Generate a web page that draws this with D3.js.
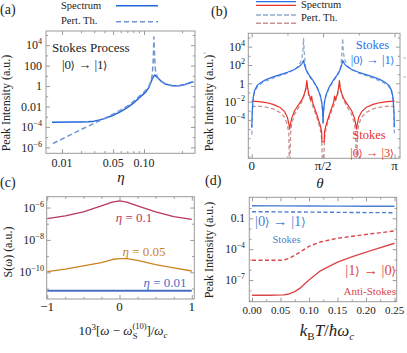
<!DOCTYPE html>
<html><head><meta charset="utf-8">
<script src="https://cdn.jsdelivr.net/npm/d3@7"></script>
<style>
body{margin:0;background:#fff}
text{font-family:"Liberation Serif","DejaVu Serif",serif;}
</style></head><body>
<script>
// ---------------- DATA ----------------
// Panel (a): Stokes |0>->|1> peak intensity vs eta
const aEta = [0.0065,0.015,0.02,0.025,0.03,0.035,0.04,0.05,0.06,0.07,0.08,0.09,0.1,0.105,0.11,0.115,0.118,0.122,0.124,0.127,0.13,0.14,0.15,0.17,0.19,0.21,0.23,0.24];
const aSpectrum = [2.8e-4,3.0e-4,3.0e-4,3.3e-4,3.7e-4,4.9e-4,6.5e-4,1.4e-3,3.2e-3,7.8e-3,0.021,0.066,0.18,0.32,0.71,2.5,5.5,10.7,12,8.5,6.8,2.8,1.6,1.1,1.1,1.4,2.2,2.6];
const aPertEta = [0.0068,0.01,0.02,0.03,0.04,0.05,0.06,0.07,0.08,0.09,0.1,0.105,0.11,0.115,0.118,0.12,0.1215,0.123,0.125,0.13,0.14,0.15,0.17,0.19,0.21,0.23,0.24];
const aPert = [2.4e-6,6.5e-6,5.5e-5,2.3e-4,6.8e-4,1.8e-3,4.5e-3,0.011,0.03,0.093,0.26,0.46,0.89,3.1,15,355,6.3e4,1100,37,7.6,2.8,1.6,1.1,1.1,1.4,2.2,2.6];
const aXTicks = [0.01,0.05,0.10];
const aXLabels = ["0.01","0.05","0.10"];
const aYTicks = [1e4,1e2,1,1e-2,1e-4,1e-6];
const aYLabels = [["10","4"],["100",""],["1",""],["0.01",""],["10","−4"],["10","−6"]];

// Panel (b): peak intensity (log10) vs theta (theta in units of pi)
const bTheta = [0.001,0.004,0.01,0.02,0.04,0.07,0.1,0.15,0.2,0.25,0.3,0.33,0.35,0.363,0.37,0.38,0.4,0.43,0.46,0.48,0.49,0.497,0.5];
const bBlueSpec = [-4.8,-3.0,-1.6,-0.8,-0.2,0.15,0.4,0.7,0.95,1.2,1.5,1.8,2.1,2.5,2.0,1.5,0.95,0.3,-0.5,-1.3,-2.0,-3.0,-4.3];
const bBluePertTheta = [0.001,0.004,0.01,0.02,0.04,0.07,0.1,0.15,0.2,0.25,0.3,0.33,0.35,0.358,0.363,0.368,0.375,0.385,0.4,0.43,0.46,0.48,0.49,0.497,0.5];
const bBluePert = [-5.6,-3.4,-1.9,-1.0,-0.35,0.0,0.25,0.55,0.85,1.1,1.5,1.9,2.6,3.4,4.9,3.4,2.0,1.3,0.85,0.2,-0.6,-1.4,-2.1,-3.2,-4.5];
const bRedTheta = [0,0.05,0.1,0.15,0.2,0.23,0.25,0.262,0.266,0.27,0.28,0.3,0.33,0.355,0.37,0.38,0.386,0.39,0.4,0.415,0.42,0.425,0.44,0.46,0.48,0.49,0.492,0.5];
const bRedSpec = [-1.95,-2.0,-2.1,-2.3,-2.65,-3.1,-3.7,-4.6,-5.0,-4.6,-3.8,-3.0,-2.3,-1.7,-1.1,-0.5,0.3,-0.3,-1.2,-1.8,-1.4,-2.0,-2.7,-3.6,-4.6,-5.3,-6.38,-6.38];
const bRedPertTheta = [0,0.05,0.1,0.15,0.2,0.23,0.25,0.26,0.264,0.268,0.272,0.28,0.3,0.33,0.355,0.37,0.38,0.386,0.39,0.4,0.44,0.46,0.48,0.49,0.496,0.5];
const bRedPert = [-2.55,-2.5,-2.6,-2.8,-3.2,-3.7,-4.5,-5.5,-9,-9,-5.5,-4.4,-3.4,-2.6,-1.9,-1.2,-0.6,0.1,-0.5,-1.4,-3.0,-3.9,-5.0,-6.0,-9,-9];
const bXTicks = [0,0.5,1];
const bXLabels = ["0","π/2","π"];
const bYTicks = [4,2,0,-2,-4];
const bYLabels = [["10","4"],["10","2"],["1",""],["10","−2"],["10","−4"]];

// Panel (c): S(omega) (log10) around the Stokes line
const cX = [-1,-0.75,-0.5,-0.25,-0.1,0,0.1,0.25,0.5,0.75,1];
const cEta010 = [-6.69,-6.52,-6.27,-5.9,-5.67,-5.59,-5.66,-5.9,-6.27,-6.56,-6.73];
const cEta005 = [-9.96,-9.80,-9.61,-9.40,-9.21,-9.15,-9.16,-9.27,-9.52,-9.73,-9.92];
const cEta001 = [-11.14,-11.14,-11.14,-11.14,-11.14,-11.14,-11.14,-11.14,-11.14,-11.14,-11.14];
const cXTicks = [-1,0,1];
const cXLabels = ["−1","0","1"];
const cYTicks = [-6,-8,-10];
const cYLabels = [["10","−6"],["10","−8"],["10","−10"]];

// Panel (d): peak intensity vs temperature
const dT = [0,0.05,0.1,0.15,0.2,0.25];
const dStokesSpec = [1.66,1.62,1.58,1.54,1.5,1.46];
const dStokesPert = [0.44,0.42,0.4,0.38,0.36,0.35];
const dAntiT = [0,0.03,0.055,0.065,0.075,0.085,0.1,0.12,0.15,0.18,0.21,0.25];
const dAntiSpec = [-8.48,-8.47,-8.44,-8.35,-8.12,-7.75,-7.0,-6.1,-5.25,-4.65,-4.12,-3.42];
const dAntiPert = [-5.08,-5.08,-5.06,-4.9,-4.6,-4.25,-3.72,-3.3,-2.94,-2.72,-2.5,-2.23];
const dXTicks = [0,0.05,0.1,0.15,0.2,0.25];
const dXLabels = ["0.00","0.05","0.10","0.15","0.20","0.25"];
const dYTicks = [-1,-4,-7];
const dYLabels = [["0.1",""],["10","−4"],["10","−7"]];

// ---------------- DRAWING ----------------
const svg = d3.select("body").append("svg").attr("width",407).attr("height",353);
const GRAY = "#9a9a9a";

function frame(x0,y0,x1,y1){
  svg.append("rect").attr("x",x0).attr("y",y0).attr("width",x1-x0).attr("height",y1-y0)
    .attr("fill","none").attr("stroke",GRAY).attr("stroke-width",1);
}
function axes(xs, ys, x0,y0,x1,y1, xMaj, xMin, yMaj, yMin){
  const mk = (ax, t, pos, len) => {
    const g = svg.append("g").attr("transform",pos);
    g.call(ax.tickValues(t).tickSize(len).tickFormat(""));
    g.select(".domain").remove();
    g.selectAll("line").attr("stroke",GRAY);
  };
  mk(d3.axisBottom(xs), xMaj, `translate(0,${y1})`, -4);
  mk(d3.axisBottom(xs), xMin, `translate(0,${y1})`, -2.2);
  mk(d3.axisTop(xs), xMaj, `translate(0,${y0})`, -4);
  mk(d3.axisTop(xs), xMin, `translate(0,${y0})`, -2.2);
  mk(d3.axisLeft(ys), yMaj, `translate(${x0},0)`, -4);
  mk(d3.axisLeft(ys), yMin, `translate(${x0},0)`, -2.2);
  mk(d3.axisRight(ys), yMaj, `translate(${x1},0)`, -4);
  mk(d3.axisRight(ys), yMin, `translate(${x1},0)`, -2.2);
}
function yLabels(ys, ticks, labels, xr, fs){
  ticks.forEach((t,i)=>{
    const tx = svg.append("text").attr("x",xr).attr("y",ys(t)+fs*0.35)
      .attr("text-anchor","end").attr("font-size",fs).attr("fill","#222");
    tx.append("tspan").text(labels[i][0]);
    if(labels[i][1]) tx.append("tspan").attr("font-size",fs*0.68).attr("dy",-fs*0.42).text(labels[i][1]);
  });
}
function xLabels(xs, ticks, labels, yb, fs){
  ticks.forEach((t,i)=>{
    svg.append("text").attr("x",xs(t)).attr("y",yb).attr("text-anchor","middle")
      .attr("font-size",fs).attr("fill","#222").text(labels[i]);
  });
}
function clip(id,x0,y0,x1,y1){
  svg.append("clipPath").attr("id",id).append("rect").attr("x",x0).attr("y",y0).attr("width",x1-x0).attr("height",y1-y0);
  return `url(#${id})`;
}
function curve(xsArr, ysArr, xs, ys, color, w, dash, cp){
  const line = d3.line().x(d=>xs(d[0])).y(d=>ys(d[1]));
  const p = svg.append("path").datum(xsArr.map((x,i)=>[x,ysArr[i]]))
    .attr("d",line).attr("fill","none").attr("stroke",color).attr("stroke-width",w)
    .attr("stroke-linejoin","round").attr("clip-path",cp);
  if(dash) p.attr("stroke-dasharray",dash);
  return p;
}
function mirrorVals(t, v){ // symmetric about theta = pi/2
  const tt = t.slice(), vv = v.slice();
  for(let i=t.length-2;i>=0;i--){ tt.push(1-t[i]); vv.push(v[i]); }
  return [tt,vv];
}
function rotText(x,y,s,fs){
  svg.append("text").attr("transform",`translate(${x},${y}) rotate(-90)`).attr("text-anchor","middle")
    .attr("font-size",fs).attr("fill","#222").text(s);
}
function txt(x,y,s,fs,color,anchor,italic){
  const t = svg.append("text").attr("x",x).attr("y",y).attr("font-size",fs).attr("fill",color||"#222")
    .attr("text-anchor",anchor||"start").text(s);
  if(italic) t.attr("font-style","italic");
  return t;
}
function ket(x,y,a,b,fs,color,anchor){
  const t = txt(x,y,"",fs,color,anchor);
  t.append("tspan").text("|"+a);
  t.append("tspan").attr("font-family","DejaVu Sans").attr("font-size",fs*0.85).attr("dx",-0.5).text("⟩");
  t.append("tspan").text(" → |"+b);
  t.append("tspan").attr("font-family","DejaVu Sans").attr("font-size",fs*0.85).attr("dx",-0.5).text("⟩");
  return t;
}

// ===== Panel (a) =====
{
  const x0=46,x1=195,y0=31,y1=153.3;
  const xs = d3.scalePow().exponent(0.3).domain([0.01,0.1]).range([62,144]);
  const ys = d3.scaleLog().domain([Math.pow(10,-6.58),Math.pow(10,5.39)]).range([y1,y0]);
  const cp = clip("ca",x0,y0,x1,y1);
  curve(aEta,aSpectrum,xs,ys,"#2266dd",1.5,null,cp);
  curve(aPertEta,aPert,xs,ys,"#6f93d6",1.5,"5,3",cp);
  frame(x0,y0,x1,y1);
  axes(xs,ys,x0,y0,x1,y1,aXTicks,[0.02,0.03,0.04,0.06,0.07,0.08,0.09,0.2],aYTicks,[1e5,1e3,10,0.1,1e-3,1e-5]);
  xLabels(xs,aXTicks,aXLabels,167,12);
  yLabels(ys,aYTicks,aYLabels,42,12);
  txt(121,182,"η",15,"#222","middle",true);
  rotText(10,103,"Peak Intensity (a.u.)",12);
  txt(52,52,"Stokes Process",13);
  ket(62,69,"0","1",13);
  txt(0,13.5,"(a)",14);
  // legend
  txt(61,9,"Spectrum",10.5);
  txt(61,24,"Pert. Th.",10.5);
  const lx = d3.scaleLinear().domain([0,1]).range([116,158]);
  svg.append("line").attr("x1",lx(0)).attr("x2",lx(1)).attr("y1",5.7).attr("y2",5.7).attr("stroke","#2266dd").attr("stroke-width",1.5);
  svg.append("line").attr("x1",lx(0)).attr("x2",lx(1)).attr("y1",21.7).attr("y2",21.7).attr("stroke","#6f93d6").attr("stroke-width",1.5).attr("stroke-dasharray","5,3");
  [53,133].forEach(y=>svg.append("line").attr("x1",203).attr("x2",206).attr("y1",y).attr("y2",y).attr("stroke","#bbb"));
}

// ===== Panel (b) =====
{
  const x0=248.3,x1=400,y0=33.3,y1=158.3;
  const xs = d3.scaleLinear().domain([0,1]).range([251.7,394.5]);
  const ly = d3.scaleLinear().domain([-8.19,5.46]).range([y1,y0]);
  const cp = clip("cb",x0,y0,x1,y1);
  const [rpT,rpV]=mirrorVals(bRedPertTheta,bRedPert);
  const [bpT,bpV]=mirrorVals(bBluePertTheta,bBluePert);
  const [rsT,rsV]=mirrorVals(bRedTheta,bRedSpec);
  const [bsT,bsV]=mirrorVals(bTheta,bBlueSpec);
  curve(rpT,rpV,xs,ly,"#c79191",1.3,"4,2.5",cp);
  curve(bpT,bpV,xs,ly,"#93a9d0",1.3,"4,2.5",cp);
  curve(rsT,rsV,xs,ly,"#e8332b",1.2,null,cp);
  curve(bsT,bsV,xs,ly,"#2a6fe6",1.2,null,cp);
  frame(x0,y0,x1,y1);
  axes(xs,ly,x0,y0,x1,y1,bXTicks,[0.25,0.75],bYTicks,[5,3,1,-1,-3,-5,-6,-7,-8]);
  xLabels(xs,bXTicks,bXLabels,170,13);
  yLabels(ly,bYTicks,bYLabels,245,12);
  txt(320,188,"θ",15,"#222","middle",true);
  rotText(213,103,"Peak Intensity (a.u.)",12);
  txt(211,16,"(b)",14);
  txt(372.5,49,"Stokes",12.5,"#2a6fe6","middle");
  ket(372.5,64,"0","1",12.5,"#2a6fe6","middle");
  txt(369,139,"Stokes",12.5,"#e8332b","middle");
  ket(372,157,"0","3",12.5,"#e8332b","middle");
  // legend
  const lx = d3.scaleLinear().domain([0,1]).range([256,296]);
  txt(301,8,"Spectrum",10.5);
  txt(301,21,"Pert. Th.",10.5);
  svg.append("line").attr("x1",lx(0)).attr("x2",lx(1)).attr("y1",1.7).attr("y2",1.7).attr("stroke","#2a6fe6").attr("stroke-width",1.3);
  svg.append("line").attr("x1",lx(0)).attr("x2",lx(1)).attr("y1",5.3).attr("y2",5.3).attr("stroke","#e8332b").attr("stroke-width",1.3);
  svg.append("line").attr("x1",lx(0)).attr("x2",lx(1)).attr("y1",15).attr("y2",15).attr("stroke","#93a9d0").attr("stroke-width",1.5).attr("stroke-dasharray","5,2");
  svg.append("line").attr("x1",lx(0)).attr("x2",lx(1)).attr("y1",23.3).attr("y2",23.3).attr("stroke","#c79191").attr("stroke-width",1.5).attr("stroke-dasharray","5,2");
  [58,77].forEach(y=>svg.append("line").attr("x1",403).attr("x2",406).attr("y1",y).attr("y2",y).attr("stroke","#bbb"));
}

// ===== Panel (c) =====
{
  const x0=46.7,x1=194.3,y0=196.7,y1=299;
  const xs = d3.scaleLinear().domain([-1,1]).range([47.2,191.8]);
  const ly = d3.scaleLinear().domain([-11.65,-5.33]).range([y1,y0]);
  const cp = clip("cc",x0,y0,x1,y1);
  curve(cX,cEta010,xs,ly,"#b83760",1.3,null,cp);
  curve(cX,cEta005,xs,ly,"#c98424",1.3,null,cp);
  curve(cX,cEta001,xs,ly,"#4a6dc6",2,null,cp);
  frame(x0,y0,x1,y1);
  axes(xs,ly,x0,y0,x1,y1,cXTicks,[-0.5,0.5,-0.75,-0.25,0.25,0.75],cYTicks,[-7,-9,-11]);
  xLabels(xs,cXTicks,cXLabels,311,13);
  yLabels(ly,cYTicks,cYLabels,44,12);
  rotText(12,252,"S(ω) (a.u.)",12);
  txt(0,187,"(c)",14);
  const e1=txt(134,222,"",13,"#b83760","middle"); e1.append("tspan").attr("font-style","italic").text("η"); e1.append("tspan").text(" = 0.1");
  const e2=txt(144,256,"",13,"#c98424","middle"); e2.append("tspan").attr("font-style","italic").text("η"); e2.append("tspan").text(" = 0.05");
  const e3=txt(165,286.5,"",13,"#4a6dc6","middle"); e3.append("tspan").attr("font-style","italic").text("η"); e3.append("tspan").text(" = 0.01");
  const t = txt(123,335,"",13,"#222","middle");
  t.append("tspan").text("10");
  t.append("tspan").attr("font-size",9).attr("dy",-5).text("3");
  t.append("tspan").attr("dy",5).text("[");
  t.append("tspan").attr("font-style","italic").text("ω");
  t.append("tspan").text(" − ");
  t.append("tspan").attr("font-style","italic").text("ω");
  t.append("tspan").attr("font-size",8.5).attr("dy",-6).text("(10)");
  t.append("tspan").attr("font-size",8.5).attr("dx",-14).attr("dy",10).text("S");
  t.append("tspan").attr("dx",9).attr("dy",-4).text("]/");
  t.append("tspan").attr("font-style","italic").text("ω");
  t.append("tspan").attr("font-style","italic").attr("font-size",9).attr("dy",3).text("c");
}

// ===== Panel (d) =====
{
  const x0=249.3,x1=396.7,y0=197.3,y1=301.7;
  const xs = d3.scaleLinear().domain([0,0.25]).range([252,394.5]);
  const ys = d3.scaleLog().domain([Math.pow(10,-9.1),Math.pow(10,1.04)]).range([y1,y0]);
  const ly = d3.scaleLinear().domain([-9.1,1.04]).range([y1,y0]);
  const cp = clip("cd",x0,y0,x1,y1);
  curve(dT,dStokesSpec,xs,ys,"#4b7fd0",1.4,null,cp);
  curve(dT,dStokesPert,xs,ys,"#4b7fd0",1.4,"4,2.5",cp);
  curve(dAntiT,dAntiPert,xs,ly,"#d9474b",1.4,"4,2.5",cp);
  curve(dAntiT,dAntiSpec,xs,ly,"#d9474b",1.4,null,cp);
  frame(x0,y0,x1,y1);
  axes(xs,ly,x0,y0,x1,y1,dXTicks,[0.025,0.075,0.125,0.175,0.225],dYTicks,[0,-2,-3,-5,-6,-8,-9]);
  xLabels(xs,dXTicks,dXLabels,314,11);
  yLabels(ly,dYTicks,dYLabels,245,11.5);
  rotText(213,250,"Peak Intensity (a.u.)",12);
  txt(205,185,"(d)",14);
  ket(255,226,"0","1",14.5,"#4b7fd0");
  txt(286.5,243,"Stokes",10.5,"#4b7fd0","middle");
  ket(396,275,"1","0",14.5,"#d9474b","end");
  txt(396,295,"Anti-Stokes",11,"#d9474b","end");
  const t = txt(327,336,"",17,"#222","middle");
  t.append("tspan").attr("font-style","italic").text("k");
  t.append("tspan").attr("font-size",11).attr("dy",4).text("B");
  t.append("tspan").attr("font-style","italic").attr("dy",-4).text("T");
  t.append("tspan").text("/");
  t.append("tspan").attr("font-style","italic").text("ħω");
  t.append("tspan").attr("font-style","italic").attr("font-size",11).attr("dy",4).text("c");
}
</script>
</body></html>
